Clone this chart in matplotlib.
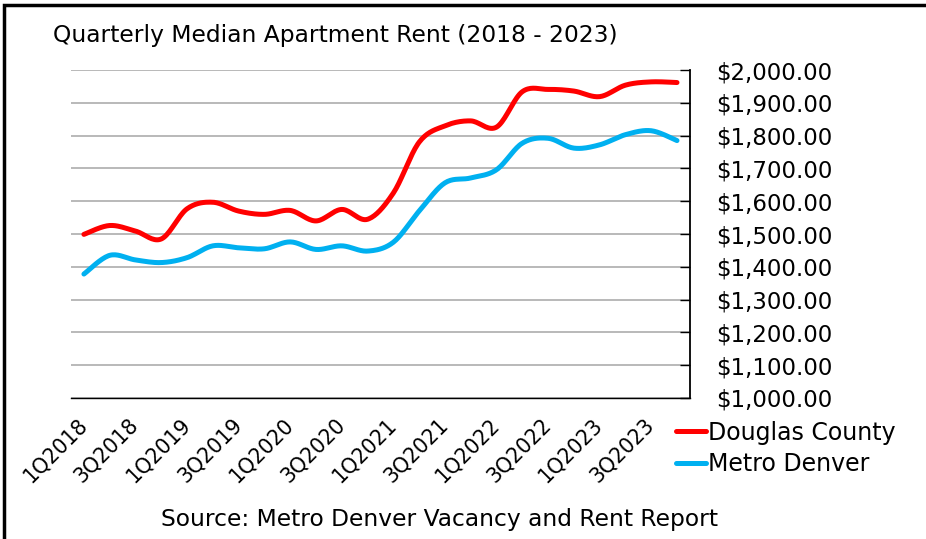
import matplotlib
matplotlib.use('Agg')

import numpy as np
import matplotlib.pyplot as plt
from matplotlib.patches import Rectangle
from matplotlib.ticker import FuncFormatter

# quarterly median rents, 1Q2018 .. 4Q2023
quarters = [f"{q}Q{y}" for y in range(2018, 2024) for q in range(1, 5)]
douglas = [1499, 1526, 1509, 1485, 1577, 1597, 1570, 1560, 1572, 1540, 1575, 1545,
           1625, 1780, 1830, 1845, 1826, 1934, 1941, 1936, 1919, 1954, 1964, 1962]
metro = [1378, 1435, 1421, 1413, 1428, 1464, 1458, 1455, 1476, 1453, 1464, 1448,
         1475, 1570, 1656, 1671, 1696, 1777, 1792, 1762, 1772, 1803, 1815, 1785]


def smooth(y, n=20):
    # Excel style smoothed line: cubic bezier through every point
    y = np.asarray(y, float)
    x = np.arange(len(y), dtype=float)
    pts = np.column_stack([x, y])
    ext = np.vstack([pts[0], pts, pts[-1]])
    t = np.linspace(0, 1, n)[:, None]
    out = []
    for i in range(len(pts) - 1):
        p0, p3 = ext[i + 1], ext[i + 2]
        p1 = p0 + (ext[i + 2] - ext[i]) / 6
        p2 = p3 - (ext[i + 3] - ext[i + 1]) / 6
        seg = ((1 - t) ** 3) * p0 + 3 * ((1 - t) ** 2) * t * p1 + 3 * (1 - t) * t ** 2 * p2 + t ** 3 * p3
        out.append(seg if i == 0 else seg[1:])
    out = np.vstack(out)
    return out[:, 0], out[:, 1]


fig = plt.figure(figsize=(9.26, 5.39), dpi=100)
ax = fig.add_axes([0.0767, 0.2616, 0.745 - 0.0767, 0.87 - 0.2616])

xs, ys = smooth(douglas)
ax.plot(xs, ys, color='#FF0000', lw=3.6, solid_capstyle='round', label='Douglas County')
xs, ys = smooth(metro)
ax.plot(xs, ys, color='#00B0F0', lw=3.6, solid_capstyle='round', label='Metro Denver')

ax.set_xlim(-0.5, len(quarters) - 0.5)
ax.set_ylim(1000, 2000)
ax.set_yticks(np.arange(1000, 2001, 100))
ax.yaxis.set_major_formatter(FuncFormatter(lambda v, p: f"${v:,.2f}"))
ax.yaxis.tick_right()
ax.tick_params(axis='y', direction='in', length=7, width=1, pad=19, labelsize=16.5)
ax.grid(axis='y', color='#A6A6A6', lw=1.1)
ax.set_axisbelow(True)

ax.set_xticks(range(0, len(quarters), 2))
ax.set_xticklabels(quarters[::2], rotation=45, ha='right', va='center',
                   rotation_mode='anchor', fontsize=14.8)
ax.tick_params(axis='x', length=0, pad=17)

for s in ['top', 'left']:
    ax.spines[s].set_visible(False)
ax.spines['right'].set_linewidth(1.3)
ax.spines['bottom'].set_linewidth(1.0)

fig.text(0.0572, 0.935, "Quarterly Median Apartment Rent (2018 - 2023)", fontsize=16.8,
         va='center', ha='left')
fig.text(0.475, 0.037, "Source: Metro Denver Vacancy and Rent Report", fontsize=16.8,
         va='center', ha='center')

fig.legend(loc='upper left', bbox_to_anchor=(0.72, 0.237), frameon=False, fontsize=17,
           handlelength=1.25, handletextpad=0.1, labelspacing=0.3, borderaxespad=0)

# outer frame, only left and top visible in the crop
fig.patches.append(Rectangle((0.004, -0.1), 1.2, 1.09, transform=fig.transFigure,
                             fill=False, ec='black', lw=2.5))

fig.savefig('out.png', dpi=100)
